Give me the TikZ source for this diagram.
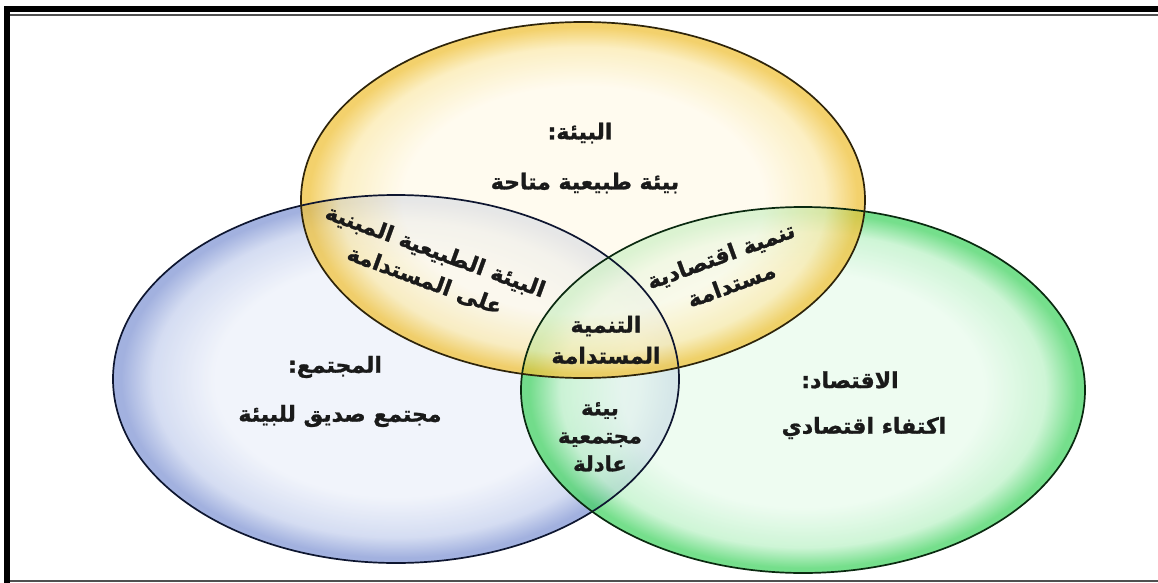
\documentclass[tikz,border=0pt]{standalone}
\usepackage{fontspec}
\newfontfamily\arabicfont[Script=Arabic, BoldFeatures={FakeBold=1.2}]{DejaVu Sans}
\TeXXeTstate=1
\newcommand\artext[1]{\beginR #1\endR}
\definecolor{yelC}{HTML}{FFFAEA}
\definecolor{yelM}{HTML}{FBEAAE}
\definecolor{yelR}{HTML}{F0C23A}
\definecolor{yelD}{HTML}{2E240A}
\definecolor{bluC}{HTML}{EDF1FA}
\definecolor{bluM}{HTML}{C6D1EE}
\definecolor{bluR}{HTML}{8296D4}
\definecolor{bluD}{HTML}{0E1630}
\definecolor{grnC}{HTML}{E9FBED}
\definecolor{grnM}{HTML}{BDF2C8}
\definecolor{grnR}{HTML}{46D464}
\definecolor{grnD}{HTML}{0A2A10}
\definecolor{txt}{HTML}{1A1A1A}
\definecolor{frameGray}{HTML}{505050}
\pgfdeclareradialshading{yelshade}{\pgfpoint{0bp}{0bp}}{color(0bp)=(yelC); color(16bp)=(yelC); color(21.5bp)=(yelM); color(24.3bp)=(yelR); color(25bp)=(yelR); color(50bp)=(yelR)}
\pgfdeclareradialshading{blushade}{\pgfpoint{0bp}{0bp}}{color(0bp)=(bluC); color(16bp)=(bluC); color(21.5bp)=(bluM); color(24.3bp)=(bluR); color(25bp)=(bluR); color(50bp)=(bluR)}
\pgfdeclareradialshading{grnshade}{\pgfpoint{0bp}{0bp}}{color(0bp)=(grnC); color(16bp)=(grnC); color(21.5bp)=(grnM); color(24.3bp)=(grnR); color(25bp)=(grnR); color(50bp)=(grnR)}
\tikzset{
  lbl/.style={font=\arabicfont\bfseries\fontsize{22}{31}\selectfont, text=txt, align=center, inner sep=0pt},
  bubble/.style={fill opacity=0.74},
  rim/.style={line width=1.7pt},
  heavyframe/.style={line width=6pt, black},
  thinframe/.style={line width=1.4pt, frameGray}
}
\begin{document}
\begin{tikzpicture}[x=1pt,y=-1pt]
\useasboundingbox (0,0) rectangle (1158,583);
\fill[white] (0,0) rectangle (1158,583);
% frame
\draw[heavyframe] (7,583) -- (7,9) -- (1158,9);
\draw[thinframe] (10,15) -- (1158,15);
\draw[thinframe] (10,581) -- (1158,581);
% bubbles
\shade[shading=blushade, bubble] (396,379) ellipse [x radius=283pt, y radius=184pt];
\shade[shading=grnshade, bubble] (803,390) ellipse [x radius=282pt, y radius=183pt];
\shade[shading=yelshade, bubble] (583,200) ellipse [x radius=282pt, y radius=178pt];
\draw[rim, bluD] (396,379) ellipse [x radius=283pt, y radius=184pt];
\draw[rim, grnD] (803,390) ellipse [x radius=282pt, y radius=183pt];
\draw[rim, yelD] (583,200) ellipse [x radius=282pt, y radius=178pt];
% labels
\node[lbl] (envT) at (580,133) {\artext{البيئة:}};
\node[lbl] (envD) at (585,183) {\artext{بيئة طبيعية متاحة}};
\node[lbl, rotate=-20] (envSoc) at (430,266) {\artext{البيئة الطبيعية المبنية}\\\artext{على المستدامة}};
\node[lbl, rotate=20] (envEco) at (726,270) {\artext{تنمية اقتصادية}\\\artext{مستدامة}};
\node[lbl] (sust) at (606,340) {\artext{التنمية}\\\artext{المستدامة}};
\node[lbl] (socT) at (335,367) {\artext{المجتمع:}};
\node[lbl] (socD) at (340,416) {\artext{مجتمع صديق للبيئة}};
\node[lbl, font=\arabicfont\bfseries\fontsize{21}{28}\selectfont] (socEco) at (600,437) {\artext{بيئة}\\\artext{مجتمعية}\\\artext{عادلة}};
\node[lbl] (ecoT) at (850,380) {\artext{الاقتصاد:}};
\node[lbl] (ecoD) at (864,428) {\artext{اكتفاء اقتصادي}};
\end{tikzpicture}
\end{document}
